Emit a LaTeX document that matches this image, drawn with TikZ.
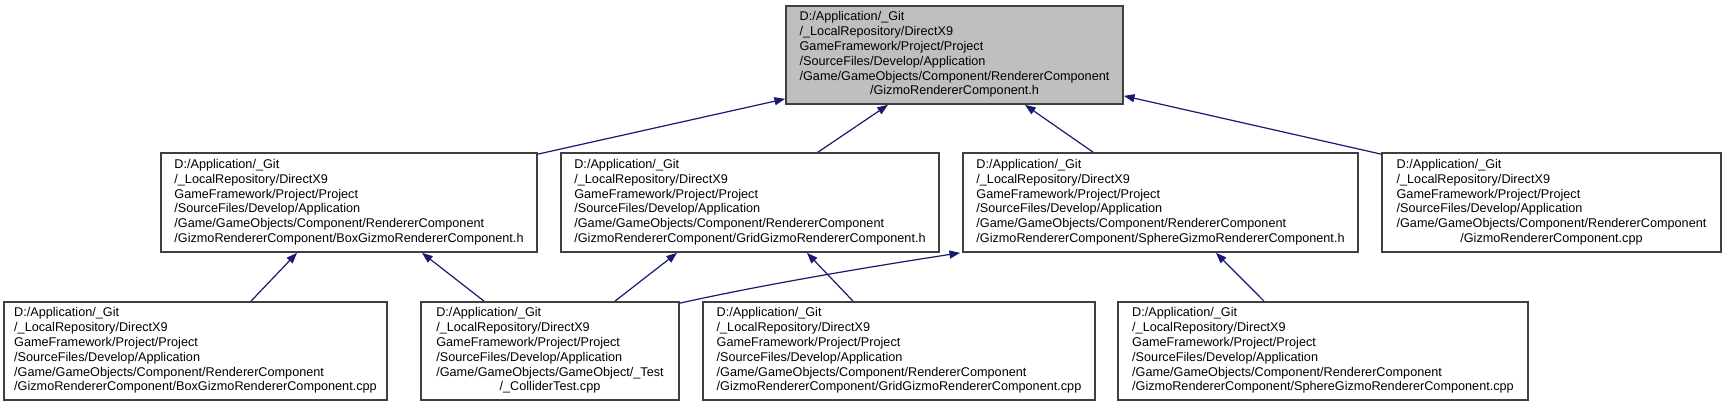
\documentclass[tikz,border=0pt]{standalone}
\usepackage{fontspec}
\setmainfont{Liberation Sans}
\usetikzlibrary{arrows.meta,calc}
\definecolor{edgeblue}{HTML}{191970}
\definecolor{boxgray}{HTML}{404040}
\definecolor{topfill}{HTML}{BFBFBF}
\newcommand{\pathhead}{D:/Application/\_Git\\ /\_LocalRepository/DirectX9\\ GameFramework/Project/Project\\ /SourceFiles/Develop/Application\\}
\begin{document}
\begin{tikzpicture}[x=0.75pt,y=-0.75pt,
  box/.style={draw=boxgray, line width=1.3pt, fill=white, inner sep=0pt,
    font=\fontsize{9.5}{11.1}\selectfont, text=black},
  edge/.style={draw=edgeblue, line width=0.9pt,
    -{Triangle[length=8pt,width=6pt,fill=edgeblue]}}]
\useasboundingbox (0,0) rectangle (1725,407);

\node[box, fill=topfill, minimum width=252.75pt, minimum height=73.5pt] (T) at (954.5,55)
  {\begin{tabular}{@{}l@{}}\pathhead /Game/GameObjects/Component/RendererComponent\\ \multicolumn{1}{@{}c@{}}{/GizmoRendererComponent.h}\end{tabular}};

\node[box, minimum width=282pt, minimum height=74.25pt] (A) at (349,202.5)
  {\begin{tabular}{@{}l@{}}\pathhead /Game/GameObjects/Component/RendererComponent\\ /GizmoRendererComponent/BoxGizmoRendererComponent.h\end{tabular}};
\node[box, minimum width=283.5pt, minimum height=74.25pt] (B) at (750,202.5)
  {\begin{tabular}{@{}l@{}}\pathhead /Game/GameObjects/Component/RendererComponent\\ /GizmoRendererComponent/GridGizmoRendererComponent.h\end{tabular}};
\node[box, minimum width=296.25pt, minimum height=74.25pt] (C) at (1160.5,202.5)
  {\begin{tabular}{@{}l@{}}\pathhead /Game/GameObjects/Component/RendererComponent\\ /GizmoRendererComponent/SphereGizmoRendererComponent.h\end{tabular}};
\node[box, minimum width=254.25pt, minimum height=74.25pt] (D) at (1551.5,202.5)
  {\begin{tabular}{@{}l@{}}\pathhead /Game/GameObjects/Component/RendererComponent\\ \multicolumn{1}{@{}c@{}}{/GizmoRendererComponent.cpp}\end{tabular}};

\node[box, minimum width=287.25pt, minimum height=73.5pt] (E) at (195.5,351)
  {\begin{tabular}{@{}l@{}}\pathhead /Game/GameObjects/Component/RendererComponent\\ /GizmoRendererComponent/BoxGizmoRendererComponent.cpp\end{tabular}};
\node[box, minimum width=193.5pt, minimum height=73.5pt] (F) at (550,351)
  {\begin{tabular}{@{}l@{}}\pathhead /Game/GameObjects/GameObject/\_Test\\ \multicolumn{1}{@{}c@{}}{/\_ColliderTest.cpp}\end{tabular}};
\node[box, minimum width=294pt, minimum height=73.5pt] (G) at (899,351)
  {\begin{tabular}{@{}l@{}}\pathhead /Game/GameObjects/Component/RendererComponent\\ /GizmoRendererComponent/GridGizmoRendererComponent.cpp\end{tabular}};
\node[box, minimum width=307.5pt, minimum height=73.5pt] (H) at (1323,351)
  {\begin{tabular}{@{}l@{}}\pathhead /Game/GameObjects/Component/RendererComponent\\ /GizmoRendererComponent/SphereGizmoRendererComponent.cpp\end{tabular}};

% edges level 2 -> top
\draw[edge] ($(A.north east)+(0,2)$) -- ($(T.south west)+(0,-6)$);
\draw[edge] ($(B.north)+(68,0)$) -- ($(T.south)+(-66.5,0)$);
\draw[edge] ($(C.north)+(-67.5,0)$) -- ($(T.south)+(70.5,0)$);
\draw[edge] ($(D.north west)+(0,2)$) -- ($(T.south east)+(0,-9)$);
% edges level 3 -> level 2
\draw[edge] ($(E.north)+(55.5,0)$) -- ($(A.south)+(-52,0)$);
\draw[edge] ($(F.north)+(-66,0)$) -- ($(A.south)+(73,0)$);
\draw[edge] ($(F.north)+(65,0)$) -- ($(B.south)+(-73,0)$);
\draw[edge] ($(F.north east)+(0,2)$) .. controls ($(F.north east)+(90,-18)$) and ($(C.south west)+(-80,12)$) .. ($(C.south west)+(-2,0)$);
\draw[edge] ($(G.north)+(-46,0)$) -- ($(B.south)+(57,0)$);
\draw[edge] ($(H.north)+(-59,0)$) -- ($(C.south)+(55.5,0)$);
\end{tikzpicture}
\end{document}
